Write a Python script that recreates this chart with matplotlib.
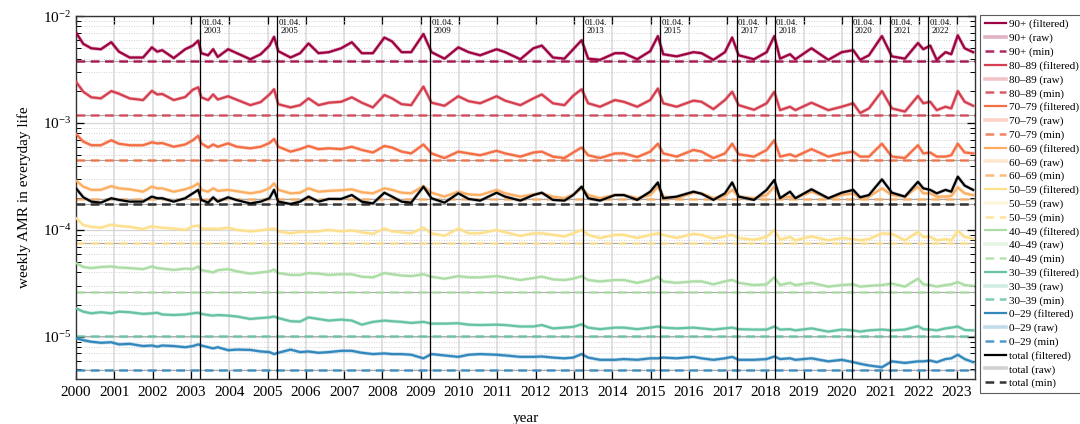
import numpy as np
import matplotlib
matplotlib.use("Agg")
import matplotlib.pyplot as plt
from matplotlib.ticker import LogLocator, NullFormatter
from matplotlib.transforms import blended_transform_factory

plt.rcParams['font.family'] = ['Liberation Serif', 'DejaVu Serif']
plt.rcParams['mathtext.fontset'] = 'stix'

# key dates (decimal years), shared by all age groups
t_key = [2000.0, 2000.19, 2000.4, 2000.65, 2000.92,
         2001.12, 2001.4, 2001.75, 2001.98,
         2002.12, 2002.25, 2002.55, 2002.85,
         2003.05, 2003.19, 2003.27, 2003.45, 2003.58, 2003.7, 2003.97,
         2004.2, 2004.55, 2004.82,
         2005.05, 2005.17, 2005.28, 2005.6, 2005.85,
         2006.07, 2006.33, 2006.6, 2006.92,
         2007.2, 2007.46, 2007.75,
         2008.05, 2008.25, 2008.5, 2008.75,
         2009.07, 2009.28, 2009.62, 2009.98,
         2010.25, 2010.55, 2010.98,
         2011.2, 2011.6, 2011.94,
         2012.16, 2012.45, 2012.75, 2012.98,
         2013.2, 2013.37, 2013.68,
         2014.07, 2014.3, 2014.65, 2014.99,
         2015.19, 2015.33, 2015.68,
         2016.12, 2016.33, 2016.64, 2016.94,
         2017.13, 2017.3, 2017.7,
         2018.03, 2018.23, 2018.38, 2018.64, 2018.78,
         2019.2, 2019.64, 2019.99,
         2020.29, 2020.47, 2020.7,
         2021.04, 2021.3, 2021.64, 2021.98,
         2022.12, 2022.3, 2022.47, 2022.7, 2022.85,
         2023.02, 2023.2, 2023.42]

v90 = np.array([7.0, 5.5, 5.0, 4.9, 5.7,
                4.65, 4.1, 4.1, 5.1,
                4.65, 4.8, 4.05, 4.9,
                5.3, 5.9, 4.5, 4.3, 4.9, 4.15, 4.9,
                4.5, 3.95, 4.4,
                5.3, 6.4, 4.7, 4.1, 4.5,
                5.55, 4.5, 4.6, 5.0,
                5.7, 4.5, 4.5,
                6.3, 5.8, 4.6, 4.6,
                6.8, 4.6, 4.0, 5.1,
                4.6, 4.3, 4.9,
                4.6, 3.95, 5.0,
                5.3, 4.1, 4.0, 4.9,
                5.95, 4.0, 3.9,
                4.5, 4.5, 3.95, 4.7,
                6.5, 4.4, 4.2,
                4.6, 4.5, 3.9, 4.6,
                6.3, 4.3, 3.95,
                4.6, 6.5, 4.0, 4.4, 3.95,
                5.0, 3.9, 4.6,
                4.8, 3.9, 4.3,
                6.5, 4.2, 4.0, 5.6,
                4.9, 5.3, 3.9, 4.6, 4.4,
                6.6, 5.0, 4.6]) * 1e-3

v80 = np.array([2.43, 1.96, 1.74, 1.70, 1.99,
                1.88, 1.70, 1.64, 2.0,
                1.85, 1.87, 1.64, 1.75,
                2.05, 2.16, 1.74, 1.64, 1.85, 1.66, 1.78,
                1.65, 1.47, 1.57,
                1.85, 2.07, 1.50, 1.40, 1.47,
                1.70, 1.47, 1.55, 1.58,
                1.74, 1.55, 1.40,
                1.83, 1.70, 1.50, 1.47,
                2.19, 1.55, 1.45, 1.78,
                1.60, 1.53, 1.78,
                1.62, 1.47, 1.70,
                1.85, 1.53, 1.47, 1.80,
                2.07, 1.53, 1.42,
                1.64, 1.58, 1.42, 1.64,
                2.10, 1.53, 1.42,
                1.62, 1.58, 1.35, 1.64,
                1.96, 1.47, 1.33,
                1.53, 1.96, 1.32, 1.42, 1.32,
                1.55, 1.32, 1.42,
                1.53, 1.24, 1.37,
                1.99, 1.37, 1.28, 1.79,
                1.53, 1.58, 1.32, 1.42, 1.37,
                1.99, 1.58, 1.45]) * 1e-3

v70 = np.array([7.9, 6.7, 6.2, 6.2, 6.9,
                6.4, 6.2, 6.2, 6.6,
                6.45, 6.5, 6.0, 6.3,
                6.9, 7.6, 6.45, 5.9, 6.3, 6.0, 6.45,
                6.0, 5.8, 6.0,
                6.5, 7.1, 6.0, 5.4, 5.7,
                6.1, 5.7, 5.8, 5.7,
                6.0, 5.6, 5.3,
                6.1, 5.9, 5.4, 5.2,
                6.3, 5.2, 4.7, 5.4,
                5.2, 5.0, 5.5,
                5.2, 4.85, 5.3,
                5.4, 4.85, 4.7, 5.3,
                5.9, 5.0, 4.7,
                5.2, 5.2, 4.8, 5.4,
                6.4, 5.2, 4.85,
                5.6, 5.4, 4.7, 5.2,
                6.4, 5.1, 4.85,
                5.6, 6.9, 4.85, 5.1, 4.85,
                5.7, 4.85, 5.2,
                5.4, 4.85, 4.85,
                6.4, 4.85, 4.7, 6.2,
                5.2, 5.3, 4.85, 4.85, 5.0,
                6.4, 5.3, 5.2]) * 1e-4

v60 = np.array([2.89, 2.54, 2.37, 2.37, 2.57,
                2.45, 2.40, 2.28, 2.54,
                2.45, 2.45, 2.28, 2.40,
                2.54, 2.73, 2.37, 2.28, 2.45, 2.32, 2.37,
                2.30, 2.20, 2.28,
                2.45, 2.73, 2.37, 2.20, 2.23,
                2.45, 2.28, 2.32, 2.35,
                2.40, 2.25, 2.20,
                2.45, 2.37, 2.23, 2.20,
                2.57, 2.23, 2.05, 2.28,
                2.15, 2.12, 2.37,
                2.20, 2.05, 2.15,
                2.20, 2.05, 1.98, 2.15,
                2.45, 2.12, 1.98,
                2.12, 2.12, 1.98, 2.12,
                2.54, 2.05, 1.98,
                2.23, 2.20, 1.98, 2.08,
                2.37, 2.05, 1.98,
                2.12, 2.54, 1.98, 2.05, 1.98,
                2.28, 1.98, 2.12,
                2.20, 1.98, 2.05,
                2.45, 2.12, 2.05, 2.54,
                2.20, 2.20, 2.05, 2.05, 2.08,
                2.50, 2.20, 2.12]) * 1e-4

v50 = np.array([1.29, 1.11, 1.07, 1.05, 1.12,
                1.09, 1.07, 1.02, 1.08,
                1.06, 1.05, 1.03, 1.00,
                1.08, 1.10, 1.03, 1.02, 1.03, 1.02, 1.05,
                1.00, 0.97, 0.99,
                1.02, 1.03, 0.97, 0.93, 0.96,
                0.96, 0.97, 1.00, 0.97,
                0.99, 0.95, 0.92,
                1.03, 0.97, 0.95, 0.93,
                1.05, 0.93, 0.88, 1.03,
                0.93, 0.93, 1.00,
                0.95, 0.88, 0.93,
                0.93, 0.90, 0.87, 0.93,
                1.00, 0.90, 0.84,
                0.90, 0.90, 0.84, 0.90,
                0.93, 0.90, 0.84,
                0.92, 0.90, 0.83, 0.87,
                0.90, 0.84, 0.81,
                0.86, 1.00, 0.81, 0.86, 0.80,
                0.87, 0.80, 0.84,
                0.82, 0.80, 0.82,
                0.93, 0.92, 0.80, 0.96,
                0.86, 0.86, 0.80, 0.82, 0.80,
                0.98, 0.86, 0.83]) * 1e-4

v40 = np.array([4.9, 4.5, 4.4, 4.5, 4.55,
                4.45, 4.4, 4.3, 4.55,
                4.4, 4.35, 4.23, 4.35,
                4.3, 4.55, 4.2, 4.1, 4.0, 4.2, 4.3,
                4.1, 3.9, 4.0,
                4.1, 4.25, 3.95, 3.8, 3.8,
                3.95, 3.9, 3.8, 3.85,
                3.85, 3.65, 3.6,
                3.95, 3.85, 3.75, 3.7,
                3.85, 3.65, 3.5, 3.7,
                3.6, 3.6, 3.7,
                3.6, 3.4, 3.55,
                3.66, 3.45, 3.4, 3.5,
                3.7, 3.4, 3.3,
                3.4, 3.4, 3.2, 3.4,
                3.66, 3.3, 3.2,
                3.3, 3.3, 3.1, 3.3,
                3.41, 3.2, 3.05,
                3.1, 3.6, 3.05, 3.2, 3.05,
                3.2, 2.95, 3.05,
                3.1, 2.95, 3.0,
                3.05, 3.15, 2.95, 3.5,
                3.1, 3.05, 2.95, 3.05, 3.1,
                3.25, 3.05, 3.0]) * 1e-5

v30 = np.array([1.85, 1.72, 1.66, 1.70, 1.66,
                1.72, 1.70, 1.64, 1.66,
                1.68, 1.62, 1.60, 1.62,
                1.66, 1.68, 1.64, 1.60, 1.58, 1.60, 1.58,
                1.55, 1.47, 1.50,
                1.52, 1.55, 1.50, 1.40, 1.39,
                1.52, 1.47, 1.42, 1.45,
                1.42, 1.30, 1.38,
                1.42, 1.40, 1.38, 1.35,
                1.38, 1.33, 1.33, 1.34,
                1.30, 1.29, 1.30,
                1.29, 1.25, 1.25,
                1.29, 1.20, 1.22, 1.24,
                1.31, 1.22, 1.18,
                1.22, 1.22, 1.18, 1.22,
                1.25, 1.22, 1.20,
                1.22, 1.20, 1.17, 1.20,
                1.22, 1.18, 1.17,
                1.17, 1.25, 1.17, 1.18, 1.15,
                1.20, 1.12, 1.17,
                1.15, 1.12, 1.15,
                1.17, 1.15, 1.17, 1.26,
                1.18, 1.17, 1.15, 1.20, 1.22,
                1.25, 1.16, 1.15]) * 1e-5

v0 = np.array([9.7, 9.3, 9.0, 8.8, 8.9,
               8.5, 8.6, 8.2, 8.3,
               8.1, 8.3, 8.2, 8.0,
               8.2, 8.5, 8.3, 8.0, 7.8, 8.0, 7.5,
               7.6, 7.55, 7.3,
               7.2, 6.9, 7.1, 7.6, 7.2,
               7.3, 7.1, 7.2, 7.4,
               7.4, 7.1, 6.9,
               7.0, 6.9, 6.9, 6.8,
               6.3, 6.9, 6.7, 6.5,
               6.8, 6.9, 6.8,
               6.7, 6.5, 6.5,
               6.55, 6.4, 6.3, 6.4,
               6.9, 6.4, 6.1,
               6.1, 6.2, 6.1, 6.3,
               6.3, 6.4, 6.3,
               6.5, 6.3, 6.1, 6.3,
               6.5, 6.1, 6.1,
               6.2, 6.55, 6.2, 6.3, 6.1,
               6.3, 5.9, 6.1,
               5.8, 5.6, 5.4,
               5.2, 5.9, 5.7, 5.9,
               5.9, 6.0, 5.8, 6.2, 6.3,
               6.8, 6.2, 5.8]) * 1e-6

v_total = np.array([2.45, 2.02, 1.84, 1.80, 1.98,
                    1.91, 1.84, 1.84, 2.05,
                    1.98, 1.98, 1.84, 1.98,
                    2.20, 2.37, 1.91, 1.80, 2.02, 1.84, 2.02,
                    1.90, 1.77, 1.84,
                    1.98, 2.37, 1.84, 1.75, 1.84,
                    2.05, 1.84, 1.95, 1.95,
                    2.12, 1.84, 1.77,
                    2.23, 2.05, 1.84, 1.80,
                    2.54, 1.98, 1.80, 2.20,
                    1.95, 1.88, 2.23,
                    2.05, 1.88, 2.12,
                    2.23, 1.91, 1.88, 2.12,
                    2.54, 1.98, 1.88,
                    2.12, 2.12, 1.91, 2.28,
                    2.78, 1.98, 2.05,
                    2.28, 2.18, 1.91, 2.20,
                    2.78, 2.05, 1.91,
                    2.37, 2.93, 1.98, 2.28, 1.98,
                    2.40, 1.98, 2.23,
                    2.37, 2.02, 2.12,
                    2.97, 2.23, 2.05, 2.82,
                    2.45, 2.37, 2.20, 2.37, 2.28,
                    3.15, 2.60, 2.37]) * 1e-4

groups = ['90+', '80–89', '70–79', '60–69', '50–59', '40–49', '30–39', '0–29']
series = [v90, v80, v70, v60, v50, v40, v30, v0]
minima = [3.83e-3, 1.2e-3, 4.5e-4, 1.94e-4, 7.5e-5, 2.65e-5, 1.02e-5, 4.92e-6]
total_min = 1.75e-4
colors = ['#9e0142', '#d53e4f', '#f46d43', '#fdae61', '#fee08b', '#abdda4', '#66c2a5', '#3288bd']

# dates of 01.04. markers
marker_years = [2003, 2005, 2009, 2013, 2015, 2017, 2018, 2020, 2021, 2022]

fig = plt.figure(figsize=(10.8, 4.24), dpi=100)
ax = fig.add_axes([0.0704, 0.106, 0.8324, 0.856])

x0, x1 = 2000.0, 2023.47
for yr in range(2000, 2024):
    ax.axvline(yr, color='#dcdcdc', lw=1.2, zorder=0)

for name, vals, vmin, c in zip(groups, series, minima, colors):
    ax.plot(t_key, vals, color=c, lw=2.6, alpha=0.3, label=name + ' (raw)', zorder=2)
    ax.plot(t_key, vals, color=c, lw=1.6, label=name + ' (filtered)', zorder=3)
    ax.plot([x0, x1], [vmin, vmin], color='#a8a8a8', lw=0.8, zorder=1)
    ax.plot([x0, x1], [vmin, vmin], color=c, lw=1.8, alpha=0.85, dashes=(3.5, 2.2),
            label=name + ' (min)', zorder=2)

ax.plot(t_key, v_total, color='#999999', lw=2.6, alpha=0.45, label='total (raw)', zorder=4)
ax.plot(t_key, v_total, color='black', lw=1.6, label='total (filtered)', zorder=5)
ax.plot([x0, x1], [total_min, total_min], color='#a8a8a8', lw=0.8, zorder=1)
ax.plot([x0, x1], [total_min, total_min], color='#333333', lw=1.8, dashes=(3.5, 2.2),
        label='total (min)', zorder=4)

trans = blended_transform_factory(ax.transData, ax.transAxes)
for yr in marker_years:
    xm = yr + 0.247
    ax.axvline(xm, color='black', lw=0.9, zorder=6)
    ax.text(xm + 0.03, 0.993, '01.04.\n' + str(yr), transform=trans, fontsize=6.3,
            ha='left', va='top', multialignment='center', linespacing=1.0, zorder=7)

ax.set_yscale('log')
ax.set_ylim(4.03e-6, 1e-2)
ax.set_xlim(x0, x1)
ax.set_xticks(range(2000, 2024))
ax.set_xticklabels([str(y) for y in range(2000, 2024)])
ax.yaxis.set_major_locator(LogLocator(base=10))
ax.yaxis.set_minor_locator(LogLocator(base=10, subs=np.arange(2, 10)))
ax.yaxis.set_minor_formatter(NullFormatter())
ax.grid(True, which='major', axis='y', color='#d6d6d6', lw=0.9, zorder=0)
ax.grid(True, which='minor', axis='y', color='#c4c4c4', lw=0.6, ls=(0, (1, 2)), zorder=0)
ax.tick_params(which='both', direction='in', top=True, right=True, labelsize=11)
ax.tick_params(which='major', length=6, width=0.9)
ax.tick_params(which='minor', length=3.5, width=0.7)
ax.tick_params(axis='x', pad=5)
for s in ax.spines.values():
    s.set_linewidth(1.0)
    s.set_color('#333333')

ax.set_xlabel('year', fontsize=11, labelpad=9)
ax.set_ylabel('weekly AMR in everyday life', fontsize=11, labelpad=8)

# legend order as in the reference
handles, labels = ax.get_legend_handles_labels()
lookup = dict(zip(labels, handles))
order = []
for name in groups:
    order += [name + ' (filtered)', name + ' (raw)', name + ' (min)']
order += ['total (filtered)', 'total (raw)', 'total (min)']
leg = ax.legend([lookup[k] for k in order], order, loc='upper left',
                bbox_to_anchor=(1.006, 1.003), fontsize=8, frameon=True, fancybox=False,
                edgecolor='#333333', handlelength=1.9, labelspacing=0.34,
                borderaxespad=0, borderpad=0.4, handletextpad=0.3)
leg.get_frame().set_linewidth(0.8)

fig.savefig('out.png', dpi=100)
